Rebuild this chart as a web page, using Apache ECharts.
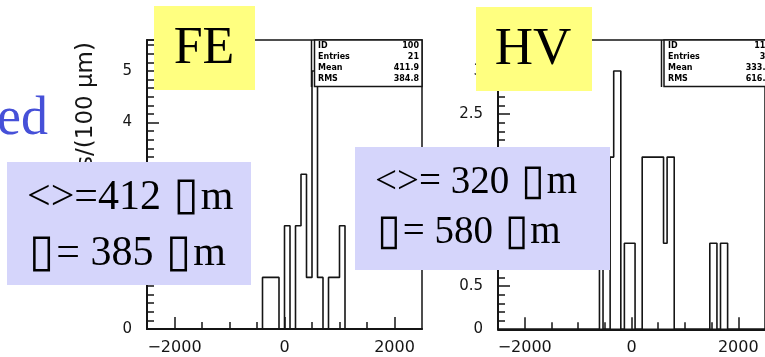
<!DOCTYPE html>
<html>
<head>
<meta charset="utf-8">
<script src="https://cdn.jsdelivr.net/npm/echarts@6.0.0/dist/echarts.min.js"></script>
<style>
html,body{margin:0;padding:0;background:#fff;}
#chart{width:765px;height:357px;}
</style>
</head>
<body>
<div id="chart"></div>
<script>
// ---------- data ----------
// FE histogram: 100 um bins (left edges) and counts
const feBinLeft = [-400, -300, -200, -100, 0, 100, 200, 300, 400, 500, 600, 700, 800, 900, 1000];
const feCounts  = [1, 1, 1, 0, 2, 0, 2, 3, 1, 5, 1, 0, 1, 1, 2];
const feBinWidth = 100;

// HV histogram: 75 bins over [-2500, 2500]; counts of consecutive bins starting at hvBinStart
const hvBinStart = -600;
const hvBinWidth = 5000 / 75;
const hvCounts = [2, 0, 0, 2, 3, 3, 0, 1, 1, 1, 0, 0, 2, 2, 2, 2, 2, 2, 1, 2, 2,
                  0, 0, 0, 0, 0, 0, 0, 0, 0, 0, 1, 1, 0, 1, 1];

const xRange = [-2500, 2500];
const xMajorTicks = [-2000, 0, 2000];
const xMinorTicks = [-1500, -1000, -500, 500, 1000, 1500];
const feYMax = 5.6;
const hvYMax = 3.36;

const feStats = [['ID', '100'], ['Entries', '21'], ['Mean', '411.9'], ['RMS', '384.8']];
const hvStats = [['ID', '110'], ['Entries', '34'], ['Mean', '333.3'], ['RMS', '616.7']];

const feLabel = 'FE';
const hvLabel = 'HV';
// the slide's Symbol-font glyphs show up as empty boxes
const feText = ['<>=412 \u25AFm', '\u25AF= 385 \u25AFm'];
const hvText = ['<>= 320 \u25AFm', '\u25AF= 580 \u25AFm'];
const titleFragment = 'ed';
const yTitle = 'Entries/(100 \u03bcm)';

// ---------- helpers ----------
function stepPoints(lefts, counts, width) {
  const pts = [[xRange[0], 0]];
  for (let i = 0; i < lefts.length; i++) pts.push([lefts[i], counts[i]]);
  pts.push([lefts[lefts.length - 1] + width, 0]);
  pts.push([xRange[1], 0]);
  return pts;
}
const hvLefts = hvCounts.map((c, i) => hvBinStart + i * hvBinWidth);

const ink = '#151515';
const labelFont = 'DejaVu Sans';
const fmtX = v => (v < 0 ? '\u2212' + Math.abs(v) : String(v));

function xAxesFor(g) {
  return [
    { gridIndex: g, type: 'value', min: xRange[0], max: xRange[1], position: 'bottom',
      axisLine: { onZero: false, lineStyle: { color: ink, width: 2 } },
      axisTick: { inside: true, length: 12, customValues: xMajorTicks, lineStyle: { color: ink, width: 1.5 } },
      axisLabel: { customValues: xMajorTicks, formatter: fmtX, color: ink, fontFamily: labelFont, fontSize: 16, margin: 11 },
      splitLine: { show: false } },
    { gridIndex: g, type: 'value', min: xRange[0], max: xRange[1], position: 'bottom',
      axisLine: { show: false, onZero: false },
      axisTick: { inside: true, length: 7, customValues: xMinorTicks, lineStyle: { color: ink, width: 1.5 } },
      axisLabel: { show: false }, splitLine: { show: false } }
  ];
}

const chart = echarts.init(document.getElementById('chart'), null, { renderer: 'canvas' });

function textEl(txt, x, y, font, fill, align, z, rich) {
  const st = { text: txt, font: font, fill: fill, align: align, textAlign: align,
               verticalAlign: 'middle', textVerticalAlign: 'middle' };
  if (rich) st.rich = rich;
  return { type: 'text', x: x, y: y, z: z || 100, style: st };
}
function rectEl(x, y, w, h, fill, stroke, lw, z) {
  return { type: 'rect', z: z || 90, shape: { x: x, y: y, width: w, height: h },
    style: { fill: fill, stroke: stroke || null, lineWidth: lw || 0 } };
}
function lineEl(x1, y1, x2, y2, z) {
  return { type: 'line', z: z || 91, shape: { x1: x1, y1: y1, x2: x2, y2: y2 },
    style: { stroke: ink, lineWidth: 1.5 } };
}
function statsEls(stats, xl, xr, rows) {
  const els = [];
  stats.forEach((s, i) => {
    els.push(textEl(s[0], xl, rows[i], 'bold 8px "DejaVu Sans"', '#000', 'left', 92));
    els.push(textEl(s[1], xr, rows[i], 'bold 8px "DejaVu Sans"', '#000', 'right', 92));
  });
  return els;
}
const statRows = [46, 57, 68, 78.5];
const serif = '"Liberation Serif", "DejaVu Serif", "DejaVu Sans"';
// box glyph rendered as its own rich-text run so it gets the wider advance of a missing-glyph box
const boxRich = sz => ({ q: { fontSize: Math.round(sz * 1.1), fontFamily: '"DejaVu Sans"', fill: '#000', padding: [0, 2, 0, 2] } });
const markBoxes = s => s.replace(/\u25AF/g, '{q|\u25AF}');
function boxLine(txt, x, y, sz) {
  return textEl(markBoxes(txt), x, y, sz + 'px ' + serif, '#000', 'left', 101, boxRich(sz));
}

const graphics = [
  // stats boxes
  rectEl(314.5, 40, 107.5, 46.5, '#fff', ink, 1.5, 90),
  lineEl(311.5, 40, 311.5, 87, 91),
  ...statsEls(feStats, 318, 419, statRows),
  rectEl(664, 40, 120, 46.5, '#fff', ink, 1.5, 90),
  lineEl(661.5, 40, 661.5, 87, 91),
  ...statsEls(hvStats, 668, 771, statRows),
  // y title
  { type: 'text', x: 86, y: 42, rotation: Math.PI / 2, z: 95,
    style: { text: yTitle, font: '23px "DejaVu Sans"', fill: ink, align: 'right', textAlign: 'right',
             verticalAlign: 'middle', textVerticalAlign: 'middle' } },
  // slide title fragment
  textEl(titleFragment, 48, 119.8, '54px "Liberation Serif"', '#4650d8', 'right', 100),
  // yellow labels
  rectEl(154, 6, 101, 84, '#ffff80', null, 0, 100),
  textEl(feLabel, 204, 49.5, '52px "Liberation Serif"', '#000', 'center', 101),
  rectEl(476, 7, 116, 84, '#ffff80', null, 0, 100),
  textEl(hvLabel, 533, 50, '53px "Liberation Serif"', '#000', 'center', 101),
  // blue result boxes
  rectEl(7, 162, 244, 123, '#d5d5fb', null, 0, 100),
  boxLine(feText[0], 27, 197.5, 42),
  boxLine(feText[1], 27, 253.8, 42),
  rectEl(355, 147, 255, 123, '#d5d5fb', null, 0, 100),
  boxLine(hvText[0], 375, 183, 39),
  boxLine(hvText[1], 375, 232.8, 39)
];

const yAxisBase = {
  type: 'value', min: 0,
  axisLine: { show: true, onZero: false, lineStyle: { color: ink, width: 2 } },
  axisTick: { show: true, inside: true, length: 12, lineStyle: { color: ink, width: 1.5 } },
  splitLine: { show: false }, minorSplitLine: { show: false }
};

const option = {
  animation: false,
  backgroundColor: '#fff',
  grid: [
    { left: 147, top: 40, width: 275, height: 289, show: true, borderColor: ink, borderWidth: 1.5, backgroundColor: 'transparent' },
    { left: 498, top: 40, width: 275, height: 289.3, show: true, borderColor: ink, borderWidth: 1.5, backgroundColor: 'transparent' }
  ],
  xAxis: [...xAxesFor(0), ...xAxesFor(1)],
  yAxis: [
    Object.assign({}, yAxisBase, { gridIndex: 0, max: feYMax, interval: 1,
      minorTick: { show: true, splitNumber: 6, length: 7, lineStyle: { color: ink, width: 1.5 } },
      axisLabel: { showMaxLabel: false, color: ink, fontFamily: labelFont, fontSize: 15, margin: 15 } }),
    Object.assign({}, yAxisBase, { gridIndex: 1, max: hvYMax, interval: 0.5,
      minorTick: { show: true, splitNumber: 5, length: 7, lineStyle: { color: ink, width: 1.5 } },
      axisLabel: { showMaxLabel: false, color: ink, fontFamily: labelFont, fontSize: 15, margin: 15 } })
  ],
  series: [
    { type: 'line', xAxisIndex: 0, yAxisIndex: 0, step: 'end', showSymbol: false, symbol: 'none',
      data: stepPoints(feBinLeft, feCounts, feBinWidth),
      lineStyle: { color: ink, width: 1.6 }, z: 5 },
    { type: 'line', xAxisIndex: 2, yAxisIndex: 1, step: 'end', showSymbol: false, symbol: 'none',
      data: stepPoints(hvLefts, hvCounts, hvBinWidth),
      lineStyle: { color: ink, width: 1.6 }, z: 5 }
  ],
  graphic: graphics
};
chart.setOption(option);
</script>
</body>
</html>
